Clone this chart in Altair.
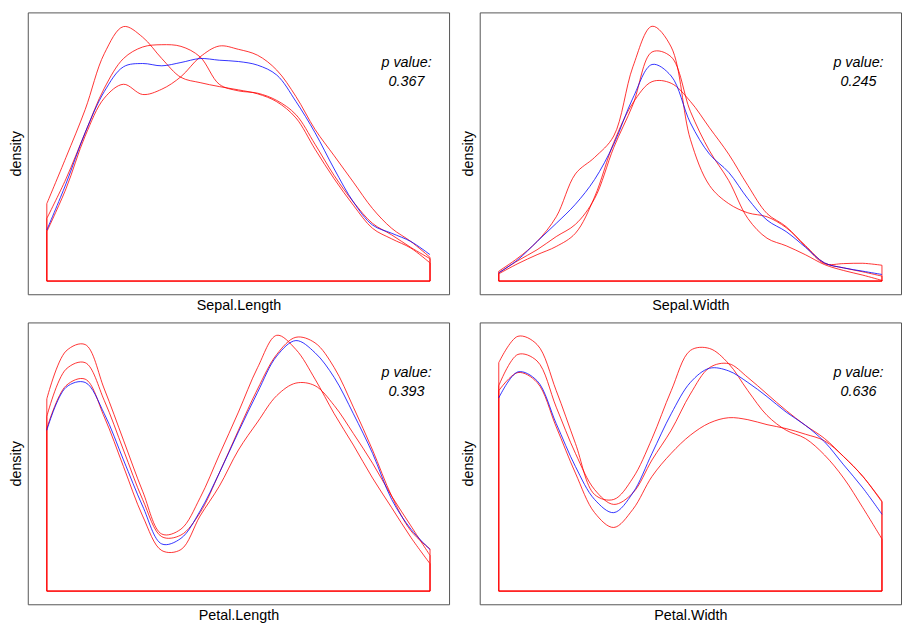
import altair as alt
import pandas as pd

FONT = "Liberation Sans"

VARIABLES = ["Sepal.Length", "Sepal.Width", "Petal.Length", "Petal.Width"]
P_VALUES = ["0.367", "0.245", "0.393", "0.636"]

# evaluation grids (range of each variable)
SL_X = [4.30, 4.48, 4.66, 4.84, 5.02, 5.20, 5.38, 5.56, 5.74, 5.92, 6.10,
        6.28, 6.46, 6.64, 6.82, 7.00, 7.18, 7.36, 7.54, 7.72, 7.90]
SW_X = [2.00, 2.12, 2.24, 2.36, 2.48, 2.60, 2.72, 2.84, 2.96, 3.08, 3.20,
        3.32, 3.44, 3.56, 3.68, 3.80, 3.92, 4.04, 4.16, 4.28, 4.40]
PL_X = [1.000, 1.295, 1.590, 1.885, 2.180, 2.475, 2.770, 3.065, 3.360, 3.655, 3.950,
        4.245, 4.540, 4.835, 5.130, 5.425, 5.720, 6.015, 6.310, 6.605, 6.900]
PW_X = [0.10, 0.22, 0.34, 0.46, 0.58, 0.70, 0.82, 0.94, 1.06, 1.18, 1.30,
        1.42, 1.54, 1.66, 1.78, 1.90, 2.02, 2.14, 2.26, 2.38, 2.50]

# densities (relative units)
SL_OBS = [0.155, 0.295, 0.450, 0.575, 0.650, 0.660, 0.653, 0.663, 0.675, 0.670, 0.666,
          0.655, 0.625, 0.545, 0.450, 0.340, 0.240, 0.170, 0.145, 0.120, 0.080]
SL_R1 = [0.235, 0.375, 0.520, 0.690, 0.772, 0.740, 0.675, 0.618, 0.602, 0.590, 0.580,
         0.568, 0.544, 0.495, 0.400, 0.310, 0.230, 0.160, 0.128, 0.100, 0.055]
SL_R2 = [0.190, 0.310, 0.450, 0.585, 0.675, 0.710, 0.717, 0.712, 0.680, 0.597, 0.577,
         0.570, 0.548, 0.505, 0.415, 0.320, 0.240, 0.175, 0.140, 0.102, 0.068]
SL_R3 = [0.150, 0.280, 0.440, 0.555, 0.597, 0.566, 0.582, 0.620, 0.680, 0.713, 0.703,
         0.685, 0.640, 0.560, 0.460, 0.380, 0.300, 0.220, 0.160, 0.120, 0.072]

SW_OBS = [0.025, 0.065, 0.120, 0.175, 0.233, 0.308, 0.415, 0.555, 0.657, 0.622, 0.480,
          0.385, 0.330, 0.250, 0.185, 0.150, 0.103, 0.055, 0.040, 0.030, 0.020]
SW_R1 = [0.030, 0.070, 0.120, 0.195, 0.325, 0.375, 0.440, 0.650, 0.773, 0.710, 0.430,
         0.290, 0.235, 0.207, 0.195, 0.162, 0.108, 0.055, 0.040, 0.028, 0.015]
SW_R2 = [0.025, 0.062, 0.095, 0.135, 0.172, 0.250, 0.405, 0.535, 0.695, 0.680, 0.515,
         0.395, 0.305, 0.190, 0.130, 0.107, 0.080, 0.050, 0.032, 0.018, 0.002]
SW_R3 = [0.022, 0.053, 0.080, 0.105, 0.145, 0.255, 0.420, 0.540, 0.605, 0.600, 0.545,
         0.465, 0.385, 0.290, 0.205, 0.165, 0.105, 0.053, 0.053, 0.054, 0.048]

PL_OBS = [0.488, 0.618, 0.633, 0.538, 0.398, 0.258, 0.143, 0.160, 0.243, 0.358, 0.483,
          0.603, 0.713, 0.760, 0.723, 0.648, 0.538, 0.418, 0.278, 0.188, 0.126]
PL_R1 = [0.583, 0.728, 0.748, 0.613, 0.458, 0.303, 0.173, 0.188, 0.283, 0.413, 0.543,
         0.678, 0.776, 0.733, 0.643, 0.538, 0.443, 0.343, 0.253, 0.163, 0.083]
PL_R2 = [0.530, 0.673, 0.693, 0.578, 0.428, 0.278, 0.165, 0.170, 0.238, 0.358, 0.488,
         0.613, 0.718, 0.770, 0.753, 0.678, 0.558, 0.428, 0.288, 0.183, 0.128]
PL_R3 = [0.493, 0.623, 0.643, 0.528, 0.378, 0.228, 0.123, 0.126, 0.228, 0.318, 0.428,
         0.513, 0.593, 0.631, 0.623, 0.563, 0.478, 0.388, 0.288, 0.198, 0.108]

PW_OBS = [0.586, 0.665, 0.638, 0.508, 0.378, 0.278, 0.238, 0.298, 0.418, 0.538, 0.633,
          0.676, 0.668, 0.633, 0.590, 0.543, 0.503, 0.453, 0.383, 0.313, 0.233]
PW_R1 = [0.693, 0.773, 0.748, 0.608, 0.448, 0.293, 0.278, 0.343, 0.463, 0.608, 0.730,
         0.736, 0.690, 0.608, 0.533, 0.488, 0.463, 0.413, 0.343, 0.253, 0.158]
PW_R2 = [0.623, 0.718, 0.698, 0.558, 0.418, 0.308, 0.263, 0.298, 0.398, 0.488, 0.598,
         0.678, 0.690, 0.648, 0.598, 0.548, 0.503, 0.463, 0.408, 0.348, 0.273]
PW_R3 = [0.608, 0.663, 0.633, 0.498, 0.358, 0.238, 0.193, 0.248, 0.348, 0.418, 0.473,
         0.510, 0.526, 0.520, 0.505, 0.493, 0.476, 0.456, 0.408, 0.348, 0.270]

PANELS = [
    (VARIABLES[0], SL_X, SL_OBS, [SL_R1, SL_R2, SL_R3], P_VALUES[0]),
    (VARIABLES[1], SW_X, SW_OBS, [SW_R1, SW_R2, SW_R3], P_VALUES[1]),
    (VARIABLES[2], PL_X, PL_OBS, [PL_R1, PL_R2, PL_R3], P_VALUES[2]),
    (VARIABLES[3], PW_X, PW_OBS, [PW_R1, PW_R2, PW_R3], P_VALUES[3]),
]

W, H = 426, 285
Y_DOMAIN = [-0.040, 0.815]
AXIS_STYLE = dict(labels=False, ticks=False, domain=False, grid=False,
                  titleFont=FONT, titleFontSize=14.5, titleFontWeight="normal",
                  titleColor="black")


def panel(var, xs, obs, reds, pv):
    curve_rows, closure_rows = [], []
    for k, ys in enumerate(reds):
        name = f"perm{k + 1}"
        for i, (x, y) in enumerate(zip(xs, ys)):
            curve_rows.append({"x": x, "density": y, "series": name, "ord": i})
        pts = [(xs[0], ys[0]), (xs[0], 0.0), (xs[-1], 0.0), (xs[-1], ys[-1])]
        for i, (x, y) in enumerate(pts):
            closure_rows.append({"x": x, "density": y, "series": name, "ord": i})
    obs_df = pd.DataFrame({"x": xs, "density": obs, "ord": list(range(len(xs)))})
    red_df = pd.DataFrame(curve_rows)
    clo_df = pd.DataFrame(closure_rows)

    lo, hi = min(xs), max(xs)
    pad = 0.0497 * (hi - lo)
    xenc = alt.X("x:Q", scale=alt.Scale(domain=[lo - pad, hi + pad], nice=False, zero=False),
                 axis=alt.Axis(title=var, titlePadding=4, **AXIS_STYLE))
    yenc = alt.Y("density:Q", scale=alt.Scale(domain=Y_DOMAIN, nice=False, zero=False),
                 axis=alt.Axis(title="density", titlePadding=4, **AXIS_STYLE))

    line_style = dict(strokeWidth=1, strokeOpacity=0.8)
    closure = alt.Chart(clo_df).mark_line(color="red", **line_style).encode(
        x=xenc, y=yenc, detail="series:N", order="ord:Q")
    red = alt.Chart(red_df).mark_line(color="red", interpolate="catmull-rom",
                                      **line_style).encode(
        x=xenc, y=yenc, detail="series:N", order="ord:Q")
    blue = alt.Chart(obs_df).mark_line(color="blue", interpolate="catmull-rom",
                                       **line_style).encode(
        x=xenc, y=yenc, order="ord:Q")
    label = alt.Chart(pd.DataFrame({"a": [0]})).mark_text(
        text=["p value:", pv], lineHeight=19, align="center", baseline="alphabetic",
        fontStyle="italic", fontSize=14.5, font=FONT, color="black"
    ).encode(x=alt.value(383), y=alt.value(55))
    return alt.layer(closure, red, blue, label).properties(width=W, height=H)


charts = [panel(*p) for p in PANELS]
chart = alt.vconcat(
    alt.hconcat(charts[0], charts[1], spacing=10),
    alt.hconcat(charts[2], charts[3], spacing=10),
    spacing=9.5,
    background="white",
    padding=0,
).configure_view(stroke="#555555", strokeWidth=1)

chart.save("out.html", embed_options={"renderer": "svg", "actions": False})
